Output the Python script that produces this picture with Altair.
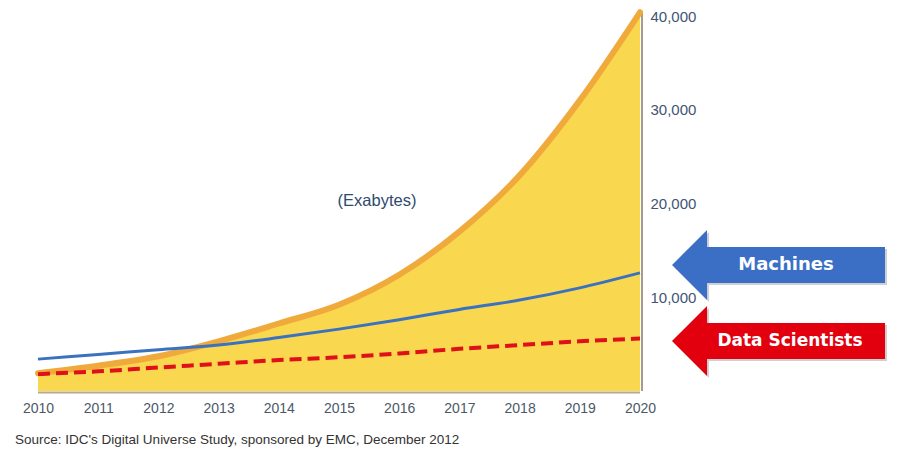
import altair as alt
import pandas as pd

years = [2010, 2011, 2012, 2013, 2014, 2015, 2016, 2017, 2018, 2019, 2020]
total_data = [1900, 2700, 3700, 5300, 7200, 9200, 12400, 17000, 23000, 31000, 40400]
machines = [3400, 3900, 4400, 4900, 5700, 6600, 7600, 8700, 9700, 11000, 12600]
scientists = [1800, 2100, 2500, 2900, 3300, 3600, 4000, 4500, 4900, 5300, 5600]
y_ticks = [10000, 20000, 30000, 40000]
unit_label = "(Exabytes)"
arrow_labels = ["Machines", "Data Scientists"]
source = "Source: IDC's Digital Universe Study, sponsored by EMC, December 2012"

df = pd.DataFrame({"year": years, "total": total_data,
                   "machines": machines, "scientists": scientists})

W, H = 602, 375
TOP = 8
SANS = "Liberation Sans, Arial, sans-serif"

xs = alt.Scale(domain=[2010, 2020], nice=False, zero=False)
ys = alt.Scale(domain=[0, 40000], nice=False)

x_enc = alt.X("year:Q", scale=xs, title=None,
              axis=alt.Axis(values=years, format="d", domain=False, ticks=False,
                            tickSize=0, grid=False, labelPadding=10,
                            labelFont=SANS, labelFontSize=14, labelColor="#4c5868",
                            labelFlush=False))

y_axis = alt.Axis(orient="right", values=y_ticks, format=",.0f", domain=False,
                  ticks=False, tickSize=0, grid=False, labelPadding=10,
                  labelFont=SANS, labelFontSize=15, labelColor="#3f5573")

base = alt.Chart(df)

area = base.mark_area(color="#f9d74f", interpolate="monotone").encode(
    x=x_enc,
    y=alt.Y("total:Q", scale=ys, title=None, axis=y_axis),
)

shadow_right = base.transform_filter(alt.datum.year == 2020).transform_calculate(
    zero="0").mark_rule(color="#a89c84", strokeWidth=2, xOffset=2).encode(
    x="year:Q", y=alt.Y("zero:Q", axis=y_axis), y2="total:Q")

shadow_bottom = base.transform_calculate(zero="0").mark_line(
    color="#b8aa8a", strokeWidth=2, yOffset=1.5).encode(
    x="year:Q", y=alt.Y("zero:Q", axis=y_axis))

edge = base.mark_line(color="#f0aa3c", strokeWidth=6, interpolate="monotone",
                      strokeCap="round").encode(
    x="year:Q", y=alt.Y("total:Q", axis=y_axis))

mach = base.mark_line(color="#3a72c0", strokeWidth=3, interpolate="monotone").encode(
    x="year:Q", y=alt.Y("machines:Q", axis=y_axis))

sci = base.mark_line(color="#e0101a", strokeWidth=4, strokeDash=[12, 6],
                     interpolate="monotone").encode(
    x="year:Q", y=alt.Y("scientists:Q", axis=y_axis))

unit = alt.Chart(pd.DataFrame({"t": [unit_label]})).mark_text(
    font=SANS, fontSize=16.5, color="#2e4a6e").encode(
    x=alt.value(339), y=alt.value(201 - 8 - TOP), text="t:N")

src = alt.Chart(pd.DataFrame({"t": [source]})).mark_text(
    font=SANS, fontSize=13.5, color="#333333",
    align="left", baseline="middle").encode(
    x=alt.value(-23), y=alt.value(440 - 8 - TOP), text="t:N")

ARROW = "M-1,0 L-0.671,-0.329 L-0.671,-0.169 L1,-0.169 L1,0.169 L-0.671,0.169 L-0.671,0.329 Z"
one = pd.DataFrame({"k": [0]})


def arrow(page_y, color, label, tx, fs):
    py = page_y - 8 - TOP
    sh = alt.Chart(one).mark_point(
        shape=ARROW, filled=True, size=45369, color="#777777", opacity=0.35,
        strokeWidth=0, xOffset=2, yOffset=2).encode(
        x=alt.value(740.5), y=alt.value(py))
    ar = alt.Chart(one).mark_point(
        shape=ARROW, filled=True, size=45369, color=color, opacity=1,
        strokeWidth=0).encode(x=alt.value(740.5), y=alt.value(py))
    tx_ = alt.Chart(pd.DataFrame({"t": [label]})).mark_text(
        font="DejaVu Sans, Verdana, sans-serif", fontWeight="bold", color="white",
        baseline="middle", fontSize=fs).encode(
        x=alt.value(tx), y=alt.value(py), text="t:N")
    return [sh, ar, tx_]


layers = [area, shadow_right, shadow_bottom, edge, mach, sci, unit, src]
layers += arrow(265, "#3b6fc5", arrow_labels[0], 748, 18)
layers += arrow(341, "#e2000e", arrow_labels[1], 752, 17)

chart = alt.layer(*layers).properties(
    width=W, height=H,
    background="white",
    autosize=alt.AutoSizeParams(type="none"),
    padding={"left": 30, "top": TOP, "right": 254, "bottom": 57},
).configure_view(stroke=None)

chart.save("out.html", embed_options={"renderer": "svg", "actions": False})
